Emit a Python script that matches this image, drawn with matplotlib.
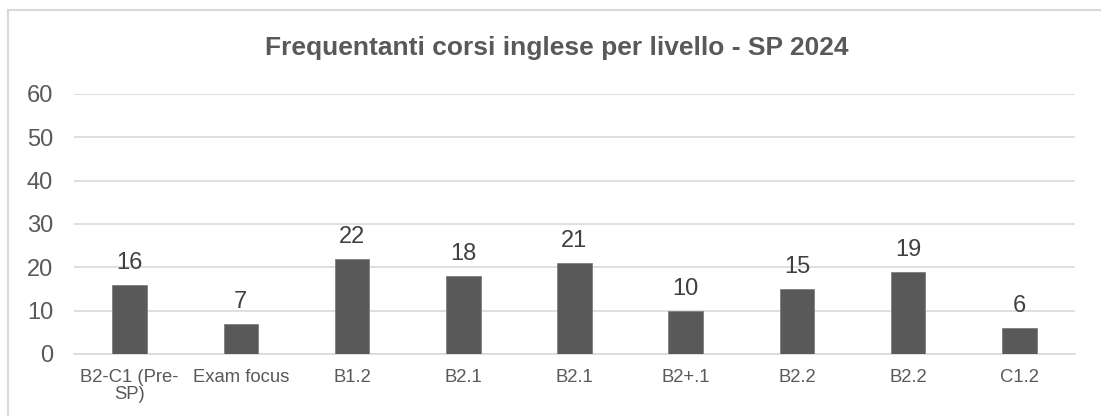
import matplotlib
matplotlib.use("Agg")
import matplotlib.pyplot as plt
from matplotlib.lines import Line2D

# data
categories = ["B2-C1 (Pre-\nSP)", "Exam focus", "B1.2", "B2.1", "B2.1",
              "B2+.1", "B2.2", "B2.2", "C1.2"]
iscritti = [16, 7, 22, 18, 21, 10, 15, 19, 6]
y_ticks = [0, 10, 20, 30, 40, 50, 60]
title = "Frequentanti corsi inglese per livello - SP 2024"

plt.rcParams['font.family'] = ['Liberation Sans', 'DejaVu Sans']
text_col = "#595959"
grid_col = "#d9d9d9"

fig = plt.figure(figsize=(11.01, 4.16), dpi=100)
ax = fig.add_axes([74 / 1101, 1 - 354 / 416, (1075 - 74) / 1101, (354 - 94) / 416])

x = list(range(len(categories)))
ax.bar(x, iscritti, width=0.31, color="#595959", edgecolor="#7f7f7f", linewidth=0.6, zorder=3)

for xi, v in zip(x, iscritti):
    ax.annotate(str(v), (xi, v), xytext=(0, 11.5), textcoords="offset points",
                ha="center", va="baseline", fontsize=17, color="#404040")

ax.set_xlim(-0.5, len(categories) - 0.5)
ax.set_ylim(0, 60)
ax.set_yticks(y_ticks)
ax.set_xticks(x)
ax.set_xticklabels(categories, fontsize=13.3, color=text_col, linespacing=0.95)
ax.tick_params(axis="y", labelsize=17, labelcolor=text_col, length=0, pad=15)
ax.tick_params(axis="x", length=0, pad=11)
ax.grid(axis="y", color=grid_col, linewidth=1.2, zorder=0)
for s in ["top", "right", "left"]:
    ax.spines[s].set_visible(False)
ax.spines["bottom"].set_color(grid_col)
ax.spines["bottom"].set_linewidth(1.2)

fig.text(556.5 / 1101, 1 - 55 / 416, title, ha="center", va="baseline",
         fontsize=19, fontweight="bold", color=text_col)

# chart area border (top and left visible in the reference)
fig.add_artist(Line2D([8 / 1101, 8 / 1101], [0, 1 - 9.5 / 416], transform=fig.transFigure,
                      color=grid_col, linewidth=1.5))
fig.add_artist(Line2D([8 / 1101, 1], [1 - 9.5 / 416, 1 - 9.5 / 416], transform=fig.transFigure,
                      color=grid_col, linewidth=1.5))

fig.savefig("out.png", dpi=100)
